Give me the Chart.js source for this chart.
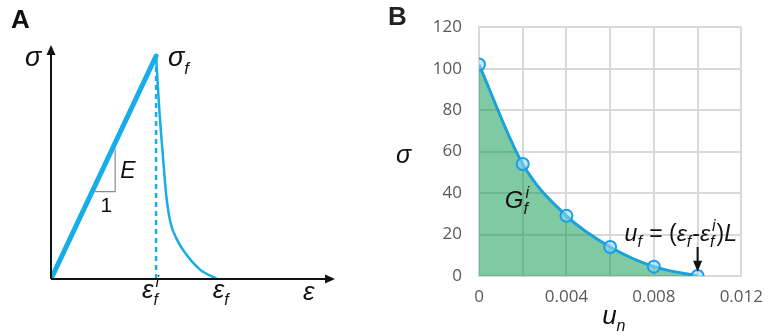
<!DOCTYPE html>
<html>
<head>
<meta charset="utf-8">
<script src="https://cdn.jsdelivr.net/npm/chart.js@4.4.1/dist/chart.umd.min.js"></script>
<style>
  html, body { margin: 0; padding: 0; background: #fff; }
  #wrap { position: relative; width: 774px; height: 336px; }
  .panel { position: absolute; top: 0; height: 336px; }
  #panelA { left: 0; width: 380px; }
  #panelB { left: 380px; width: 394px; }
</style>
</head>
<body>
<div id="wrap">
  <div class="panel" id="panelA"><canvas id="chartA" width="380" height="336"></canvas></div>
  <div class="panel" id="panelB"><canvas id="chartB" width="394" height="336"></canvas></div>
</div>
<script>
// --- panel A: schematic stress-strain (arbitrary units) ---
const epsElastic = [0, 3.7];
const sigElastic = [0, 9.53];
const epsDecay = [3.70, 3.80, 3.96, 4.06, 4.20, 4.45, 4.72, 5.25, 5.84];
const sigDecay = [9.53, 7.50, 4.95, 3.55, 2.45, 1.65, 1.12, 0.40, 0.00];
const epsSlope = [1.50, 2.26, 2.26];
const sigSlope = [3.73, 3.73, 5.55];

// --- panel B: traction-separation ---
const uN = [0, 0.002, 0.004, 0.006, 0.008, 0.010];
const sigmaB = [102, 54, 29, 14, 4.5, 0];
const xTicks = [0, 0.002, 0.004, 0.006, 0.008, 0.010, 0.012];
const xTickLabels = [0, 0.004, 0.008, 0.012];
const yTicks = [0, 20, 40, 60, 80, 100, 120];

const BLUE = '#16ade8';
const FONT = '"Liberation Sans", Arial, sans-serif';

function pts(xs, ys) {
  return xs.map((x, i) => ({ x: x, y: ys[i] }));
}

// draws text like σ_f or ε_f^i, left aligned at baseline
function rich(ctx, x, y, parts, size, subScale) {
  const k = subScale || 0.62;
  ctx.textAlign = 'left';
  ctx.textBaseline = 'alphabetic';
  parts.forEach(p => {
    if (p.t) {
      ctx.font = (p.up ? '' : 'italic ') + size + 'px ' + FONT;
      ctx.fillText(p.t, x, y);
      x += ctx.measureText(p.t).width;
    }
    if (p.sub || p.sup) {
      const s = Math.round(size * k);
      ctx.font = 'italic ' + s + 'px ' + FONT;
      let w = 0;
      if (p.sub) {
        ctx.fillText(p.sub, x, y + size * 0.28);
        w = ctx.measureText(p.sub).width;
      }
      if (p.sup) {
        ctx.fillText(p.sup, x + 2, y - size * 0.42);
        w = Math.max(w, ctx.measureText(p.sup).width + 2);
      }
      x += w + 1;
    }
  });
  return x;
}

function arrowHead(ctx, x, y, dir, len, half) {
  ctx.beginPath();
  if (dir === 'right') {
    ctx.moveTo(x, y); ctx.lineTo(x - len, y - half); ctx.lineTo(x - len, y + half);
  } else if (dir === 'up') {
    ctx.moveTo(x, y); ctx.lineTo(x - half, y + len); ctx.lineTo(x + half, y + len);
  } else {
    ctx.moveTo(x, y); ctx.lineTo(x - half, y - len); ctx.lineTo(x + half, y - len);
  }
  ctx.closePath();
  ctx.fill();
}

const panelAExtras = {
  id: 'panelAExtras',
  afterDatasetsDraw(chart) {
    const ctx = chart.ctx;
    const xs = chart.scales.x, ys = chart.scales.y;
    const a = chart.chartArea;
    const x0 = xs.getPixelForValue(0), y0 = ys.getPixelForValue(0);
    ctx.save();
    // axes with arrows
    ctx.strokeStyle = '#111';
    ctx.fillStyle = '#111';
    ctx.lineWidth = 2;
    ctx.beginPath();
    ctx.moveTo(x0, y0); ctx.lineTo(a.right - 6, y0);
    ctx.moveTo(x0, y0); ctx.lineTo(x0, a.top + 6);
    ctx.stroke();
    arrowHead(ctx, a.right, y0, 'right', 10, 4.5);
    arrowHead(ctx, x0, a.top, 'up', 10, 4.5);

    // labels
    ctx.fillStyle = '#111';
    ctx.font = 'bold 26px ' + FONT;
    ctx.textAlign = 'left';
    ctx.fillText('A', 11, 28);

    const px = xs.getPixelForValue(epsElastic[1]);
    const py = ys.getPixelForValue(sigElastic[1]);
    rich(ctx, x0 - 26, py + 10, [{ t: 'σ' }], 27);
    rich(ctx, px + 12, py + 10, [{ t: 'σ', sub: 'f' }], 27);
    rich(ctx, px - 14, y0 + 19, [{ t: 'ε', sub: 'f', sup: 'i' }], 26);
    const ex = xs.getPixelForValue(epsDecay[epsDecay.length - 1]);
    rich(ctx, ex - 4, y0 + 19, [{ t: 'ε', sub: 'f' }], 26);
    rich(ctx, a.right - 32, y0 + 21, [{ t: 'ε' }], 26);
    const sx = xs.getPixelForValue(epsSlope[1]);
    rich(ctx, sx + 5, ys.getPixelForValue(4.3), [{ t: 'E' }], 23);
    ctx.font = '21px ' + FONT;
    ctx.textAlign = 'center';
    ctx.fillText('1', (xs.getPixelForValue(epsSlope[0]) + sx) / 2 + 2, ys.getPixelForValue(sigSlope[0]) + 20);
    ctx.restore();
  }
};

new Chart(document.getElementById('chartA'), {
  type: 'scatter',
  data: {
    datasets: [
      {
        data: pts(epsSlope, sigSlope),
        showLine: true, borderColor: '#8c8c8c', borderWidth: 1.2,
        pointRadius: 0, tension: 0
      },
      {
        data: pts(epsDecay, sigDecay),
        showLine: true, borderColor: BLUE, borderWidth: 2.5,
        pointRadius: 0, cubicInterpolationMode: 'monotone'
      },
      {
        data: pts([epsElastic[1], epsElastic[1]], [0, sigElastic[1]]),
        showLine: true, borderColor: BLUE, borderWidth: 2.5,
        borderDash: [5, 4], pointRadius: 0
      },
      {
        data: pts(epsElastic, sigElastic),
        showLine: true, borderColor: BLUE, borderWidth: 5,
        borderCapStyle: 'round', pointRadius: 0
      }
    ]
  },
  options: {
    responsive: false,
    animation: false,
    layout: { padding: { left: 51, right: 45, top: 45, bottom: 57 } },
    plugins: { legend: { display: false }, tooltip: { enabled: false } },
    scales: {
      x: { type: 'linear', min: 0, max: 10, display: false },
      y: { type: 'linear', min: 0, max: 10, display: false }
    }
  },
  plugins: [panelAExtras]
});

const panelBExtras = {
  id: 'panelBExtras',
  afterDatasetsDraw(chart) {
    const ctx = chart.ctx;
    const xs = chart.scales.x, ys = chart.scales.y;
    const a = chart.chartArea;
    ctx.save();
    ctx.fillStyle = '#222';
    ctx.font = 'bold 26px ' + FONT;
    ctx.textAlign = 'left';
    ctx.fillText('B', 8, 25);

    ctx.fillStyle = '#111';
    rich(ctx, 16, 163, [{ t: 'σ' }], 25);
    rich(ctx, (a.left + a.right) / 2 - 8, 324, [{ t: 'u', sub: 'n' }], 26);

    rich(ctx, xs.getPixelForValue(0.00118), ys.getPixelForValue(33), [{ t: 'G', sub: 'f', sup: 'i' }], 24, 0.66);

    // failure displacement annotation
    const fx = xs.getPixelForValue(uN[uN.length - 1]);
    rich(ctx, fx - 73, ys.getPixelForValue(17),
      [{ t: 'u', sub: 'f' }, { t: ' = (', up: true }, { t: 'ε', sub: 'f' }, { t: '-', up: true }, { t: 'ε', sub: 'f', sup: 'i' }, { t: ')', up: true }, { t: 'L' }], 23, 0.68);
    ctx.strokeStyle = '#111';
    ctx.lineWidth = 2;
    ctx.beginPath();
    ctx.moveTo(fx, ys.getPixelForValue(14));
    ctx.lineTo(fx, ys.getPixelForValue(2) - 8);
    ctx.stroke();
    arrowHead(ctx, fx, ys.getPixelForValue(2), 'down', 11, 4.5);
    ctx.restore();
  }
};

new Chart(document.getElementById('chartB'), {
  type: 'scatter',
  data: {
    datasets: [{
      data: pts(uN, sigmaB),
      showLine: true,
      cubicInterpolationMode: 'monotone',
      borderColor: '#1aa2dc',
      borderWidth: 3,
      fill: 'origin',
      backgroundColor: 'rgba(0, 150, 70, 0.5)',
      pointRadius: 6,
      pointBorderWidth: 2,
      pointBorderColor: '#1a9ee6',
      pointBackgroundColor: 'rgba(150, 215, 255, 0.55)'
    }]
  },
  options: {
    responsive: false,
    animation: false,
    layout: { padding: { left: 0, right: 26, top: 23, bottom: 0 } },
    plugins: { legend: { display: false }, tooltip: { enabled: false } },
    scales: {
      x: {
        type: 'linear', min: 0, max: 0.012,
        afterFit(s) { s.height = 60; },
        afterBuildTicks(s) { s.ticks = xTicks.map(v => ({ value: v })); },
        ticks: {
          padding: 11,
          color: '#595959',
          font: { family: '"Open Sans", sans-serif', size: 17 },
          maxRotation: 0,
          autoSkip: false,
          callback(v) {
            const hit = xTickLabels.find(t => Math.abs(t - v) < 1e-9);
            if (hit === undefined) return '';
            return hit === 0 ? '0' : hit.toFixed(3);
          }
        },
        grid: { color: '#d9d9d9', lineWidth: 2, drawTicks: false },
        border: { color: '#d9d9d9', width: 2 }
      },
      y: {
        type: 'linear', min: 0, max: 120,
        afterFit(s) { s.width = 99; },
        afterBuildTicks(s) { s.ticks = yTicks.map(v => ({ value: v })); },
        ticks: {
          padding: 17,
          color: '#595959',
          font: { family: '"Open Sans", sans-serif', size: 17 }
        },
        grid: { color: '#d9d9d9', lineWidth: 2, drawTicks: false },
        border: { color: '#d9d9d9', width: 2 }
      }
    }
  },
  plugins: [panelBExtras]
});
</script>
</body>
</html>
